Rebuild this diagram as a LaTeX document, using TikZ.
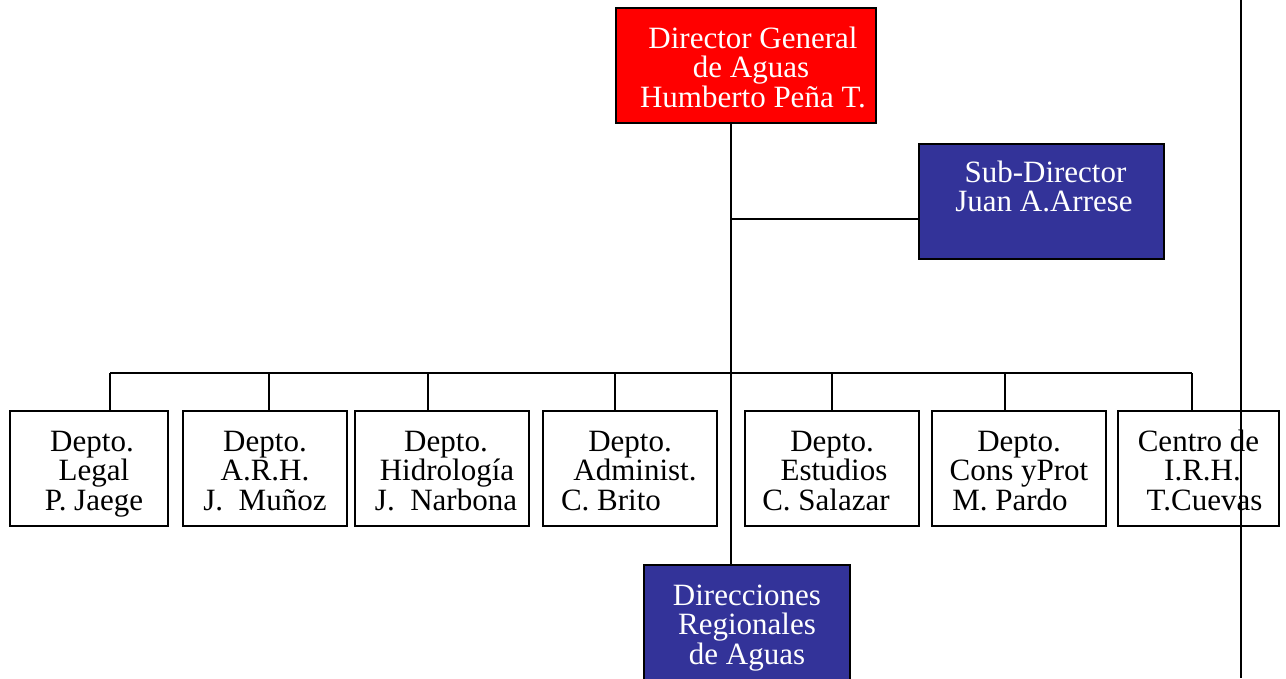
\documentclass[tikz,border=0pt]{standalone}
\usepackage{fontspec}
\setmainfont{Liberation Serif}
\definecolor{dirred}{HTML}{FF0000}
\definecolor{navy}{HTML}{333399}
\newcommand\padL[2]{\rule{#1}{0pt}#2}
\newcommand\padR[2]{#2\rule{#1}{0pt}}
\newcommand\tstr{\rule{0pt}{31pt}}
\newcommand\bstr[1][7pt]{\rule[-#1]{0pt}{#1}}
\begin{document}
\begin{tikzpicture}[x=1pt,y=-1pt,
  box/.style={draw=black,line width=1.4pt,inner sep=0pt,align=center,
    minimum height=115pt,font=\fontsize{31}{29.5}\selectfont},
  wbox/.style={box,fill=white,text=black},
  cbox/.style={box,fill=#1,text=white},
  link/.style={draw=black,line width=1.4pt}]
\clip (0,0) rectangle (1286,678);
\fill[white] (0,0) rectangle (1286,678);
% top boxes
\node[cbox=dirred,minimum width=260pt] (dg) at (746,65.5)
  {\tstr\padL{14pt}{Director General}\\\padL{10pt}{de Aguas}\\\padL{14pt}{Humberto Peña T.}\bstr};
\node[cbox=navy,minimum width=245pt] (sub) at (1041.5,201.5)
  {\tstr\padL{8pt}{Sub-Director}\\\padL{5pt}{Juan A.Arrese}\\\mbox{}\bstr[11pt]};
% departments
\node[wbox,minimum width=158pt] (d1) at (89,468.5) {\tstr\padL{6pt}{Depto.}\\\padL{10pt}{Legal}\\\padL{10pt}{P. Jaege}\bstr};
\node[wbox,minimum width=164pt] (d2) at (265,468.5) {\tstr Depto.\\A.R.H.\\J.~~Muñoz\bstr};
\node[wbox,minimum width=174pt] (d3) at (442,468.5) {\tstr\padL{8pt}{Depto.}\\\padL{10pt}{Hidrología}\\\padL{8pt}{J.~~Narbona}\bstr};
\node[wbox,minimum width=174pt] (d4) at (630,468.5) {\tstr Depto.\\\padL{10pt}{Administ.}\\\padR{38pt}{C. Brito}\bstr};
\node[wbox,minimum width=174pt] (d5) at (832,468.5) {\tstr Depto.\\\padL{4pt}{Estudios}\\\padR{12pt}{C. Salazar}\bstr};
\node[wbox,minimum width=174pt] (d6) at (1019,468.5) {\tstr Depto.\\Cons yProt\\\padR{18pt}{M. Pardo}\bstr};
\node[wbox,minimum width=161pt] (d7) at (1198.5,468.5) {\tstr Centro de\\\padL{8pt}{I.R.H.}\\\padL{12pt}{T.Cuevas}\bstr};
% regional
\node[cbox=navy,minimum width=206pt] (dr) at (747,622.5) {\tstr Direcciones\\Regionales\\de Aguas\bstr};
% connectors
\coordinate (trunkx) at (731,0);
\coordinate (subj) at (731,219);
\coordinate (bus) at (0,373);
\draw[link] (dg.south -| trunkx) -- (dr.north -| trunkx);
\draw[link] (subj) -- (subj -| sub.west);
\coordinate (t1) at ([xshift=21pt]d1.north);
\coordinate (t2) at ([xshift=4pt]d2.north);
\coordinate (t3) at ([xshift=-14pt]d3.north);
\coordinate (t4) at ([xshift=-15pt]d4.north);
\coordinate (t5) at (d5.north);
\coordinate (t6) at ([xshift=-14pt]d6.north);
\coordinate (t7) at ([xshift=-6.5pt]d7.north);
\draw[link] (t1 |- bus) -- (t7 |- bus);
\foreach \t in {t1,t2,t3,t4,t5,t6,t7}{\draw[link] (\t) -- (\t |- bus);}
% right margin line
\coordinate (rtop) at (1241,0);
\coordinate (rbot) at (1241,678);
\draw[link] (rtop) -- (rbot);
\end{tikzpicture}
\end{document}
